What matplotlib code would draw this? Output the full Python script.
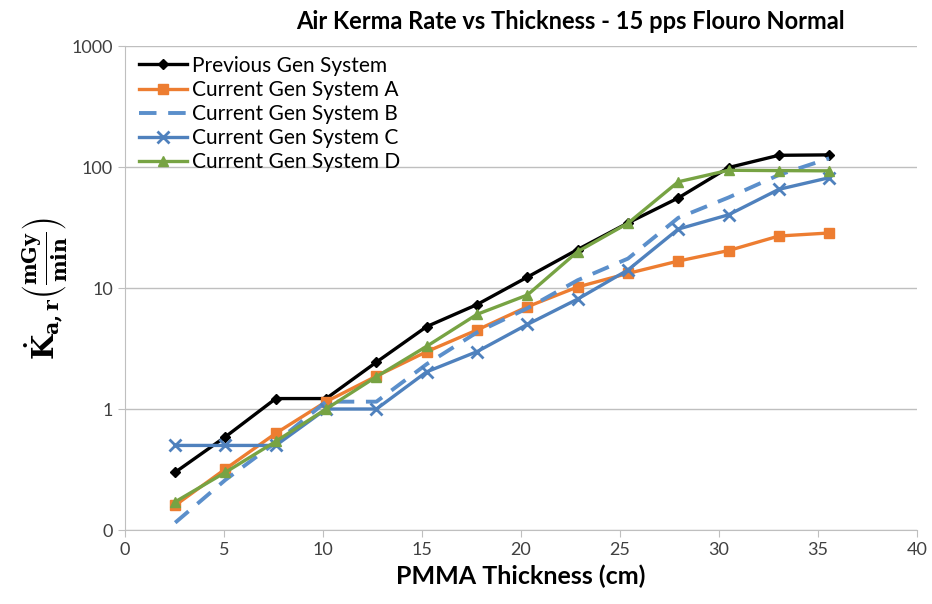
import numpy as np
import matplotlib
matplotlib.use("Agg")
import matplotlib.pyplot as plt

# ---- data ----
thickness = [2.54, 5.08, 7.62, 10.16, 12.7, 15.24, 17.78, 20.32, 22.86, 25.4, 27.94, 30.48, 33.02, 35.56]
prev_gen = [0.30, 0.59, 1.22, 1.22, 2.44, 4.8, 7.3, 12.3, 20.8, 34.5, 55.5, 99, 125, 126]
sys_a = [0.16, 0.32, 0.63, 1.15, 1.87, 2.98, 4.5, 7.0, 10.2, 13.2, 16.7, 20.4, 26.9, 28.5]
sys_b = [0.115, 0.26, 0.53, 1.15, 1.15, 2.35, 4.3, 6.8, 11.6, 17.5, 38, 56, 86, 118]
sys_c = [0.5, 0.5, 0.5, 1.0, 1.0, 2.03, 2.98, 5.0, 8.1, 14.1, 30.7, 40.3, 65.4, 81.6]
sys_d = [0.171, 0.30, 0.54, 1.0, 1.85, 3.3, 6.06, 8.75, 20, 34.3, 75.5, 94, 93.4, 93]

yticks = [0.1, 1, 10, 100, 1000]
ytick_labels = ['0', '1', '10', '100', '1000']
xticks = np.arange(0, 45, 5)

plt.rcParams['font.family'] = ['Lato', 'DejaVu Sans']
plt.rcParams['mathtext.fontset'] = 'dejavuserif'

fig = plt.figure(figsize=(9.32, 6.04), dpi=100)
ax = fig.add_axes([0.134, 0.1225, 0.850, 0.8013])

ax.plot(thickness, prev_gen, color='black', lw=2.4, marker='D', ms=5, label='Previous Gen System')
ax.plot(thickness, sys_a, color='#ED7D31', lw=2.4, marker='s', ms=6.5, label='Current Gen System A')
ax.plot(thickness, sys_b, color='#5B8FCB', lw=2.8, ls=(0, (4.5, 3)), label='Current Gen System B')
ax.plot(thickness, sys_c, color='#4F81BD', lw=2.4, marker='x', ms=9, mew=2, label='Current Gen System C')
ax.plot(thickness, sys_d, color='#77A343', lw=2.4, marker='^', ms=7, label='Current Gen System D')

ax.set_yscale('log')
ax.set_ylim(0.1, 1000)
ax.set_xlim(0, 40)
ax.set_yticks(yticks)
ax.set_yticklabels(ytick_labels)
ax.yaxis.set_minor_locator(matplotlib.ticker.NullLocator())
ax.set_xticks(xticks)

ax.grid(axis='y', color='#BFBFBF', lw=1)
ax.set_axisbelow(True)
for s in ['top', 'right']:
    ax.spines[s].set_visible(False)
for s in ['left', 'bottom']:
    ax.spines[s].set_color('#BFBFBF')
ax.tick_params(axis='both', colors='#BFBFBF', labelcolor='#404040', labelsize=13, length=5, direction='out')

ax.set_title('Air Kerma Rate vs Thickness - 15 pps Flouro Normal', fontsize=17, fontweight='bold',
             pad=12, x=0.562)
ax.set_xlabel('PMMA Thickness (cm)', fontsize=18, fontweight='bold', labelpad=5)
ax.set_ylabel(r'$\mathbf{\dot{K}_{a,r}\left(\frac{mGy}{min}\right)}$', fontsize=21, labelpad=2)

ax.legend(loc='upper left', bbox_to_anchor=(0.0, 1.01), frameon=False, fontsize=15,
          handlelength=2.3, handletextpad=0.2, labelspacing=0.2, borderaxespad=0.3)

fig.savefig('out.png', dpi=100)
